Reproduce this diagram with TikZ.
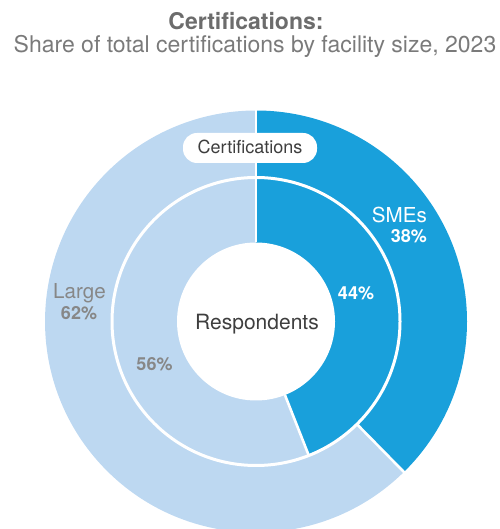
\documentclass[tikz,border=0pt]{standalone}
\usepackage{fontspec}
\setmainfont{TeX Gyre Heros}
\definecolor{smeblue}{RGB}{25,160,219}
\definecolor{largeblue}{RGB}{189,216,241}
\definecolor{titlegray}{RGB}{108,108,108}
\definecolor{subgray}{RGB}{122,122,122}
\definecolor{labgray}{RGB}{135,135,135}
\definecolor{darktext}{RGB}{62,62,62}
\tikzset{
  sep/.style={draw=white, line width=2.6pt},
  lab/.style={inner sep=0pt, anchor=base},
  bigtxt/.style={font=\fontsize{23}{27}\selectfont},
  pcttxt/.style={font=\fontsize{18}{21}\selectfont\bfseries},
  cattxt/.style={font=\fontsize{20.6}{24}\selectfont},
}
\begin{document}
\begin{tikzpicture}[x=1pt,y=1pt]
\useasboundingbox (0,0) rectangle (499,529);
\clip (0,0) rectangle (499,529);
\coordinate (c) at (256,207.5);
% outer ring
\fill[smeblue] (c) -- ++(90:211) arc[start angle=90, end angle=-45.5, radius=211] -- cycle;
\fill[largeblue] (c) -- ++(-45.5:211) arc[start angle=-45.5, end angle=-270, radius=211] -- cycle;
% inner ring
\fill[smeblue] (c) -- ++(90:144) arc[start angle=90, end angle=-68.5, radius=144] -- cycle;
\fill[largeblue] (c) -- ++(-68.5:144) arc[start angle=-68.5, end angle=-270, radius=144] -- cycle;
% separators
\draw[sep, line width=3pt] (c) circle[radius=144];
\draw[sep] (c) ++(90:79) -- ++(90:134);
\draw[sep] (c) ++(-45.5:144) -- ++(-45.5:69);
\draw[sep] (c) ++(-68.5:79) -- ++(-68.5:66);
% hole
\fill[white] (c) circle[radius=79];
% titles
\node[lab, bigtxt, font=\fontsize{23}{27}\selectfont\bfseries, text=titlegray] (title) at (246,499.5) {Certifications:};
\node[lab, bigtxt, text=subgray] (subtitle) at (255,476) {Share of total certifications by facility size, 2023};
% ring label
\node[fill=white, rounded corners=14pt, minimum width=134pt, minimum height=30pt, inner sep=0pt] (ringbox) at (250,381) {};
\node[lab, font=\fontsize{18}{21}\selectfont, text=darktext] (ringlab) at (250,375.7) {Certifications};
\node[lab, font=\fontsize{21}{25}\selectfont, text=darktext] (resp) at (257,199.7) {Respondents};
% category labels
\node[lab, cattxt, text=white, anchor=base east] (sme) at (427,306) {SMEs};
\node[lab, pcttxt, text=white, anchor=base east] (sme38) at (427,286) {38\%};
\node[lab, pcttxt, text=white] (sme44) at (356,229) {44\%};
\node[lab, cattxt, text=labgray] (large) at (79.5,230) {Large};
\node[lab, pcttxt, text=labgray] (large62) at (79,209) {62\%};
\node[lab, pcttxt, text=labgray] (large56) at (154.5,158) {56\%};
\end{tikzpicture}
\end{document}
